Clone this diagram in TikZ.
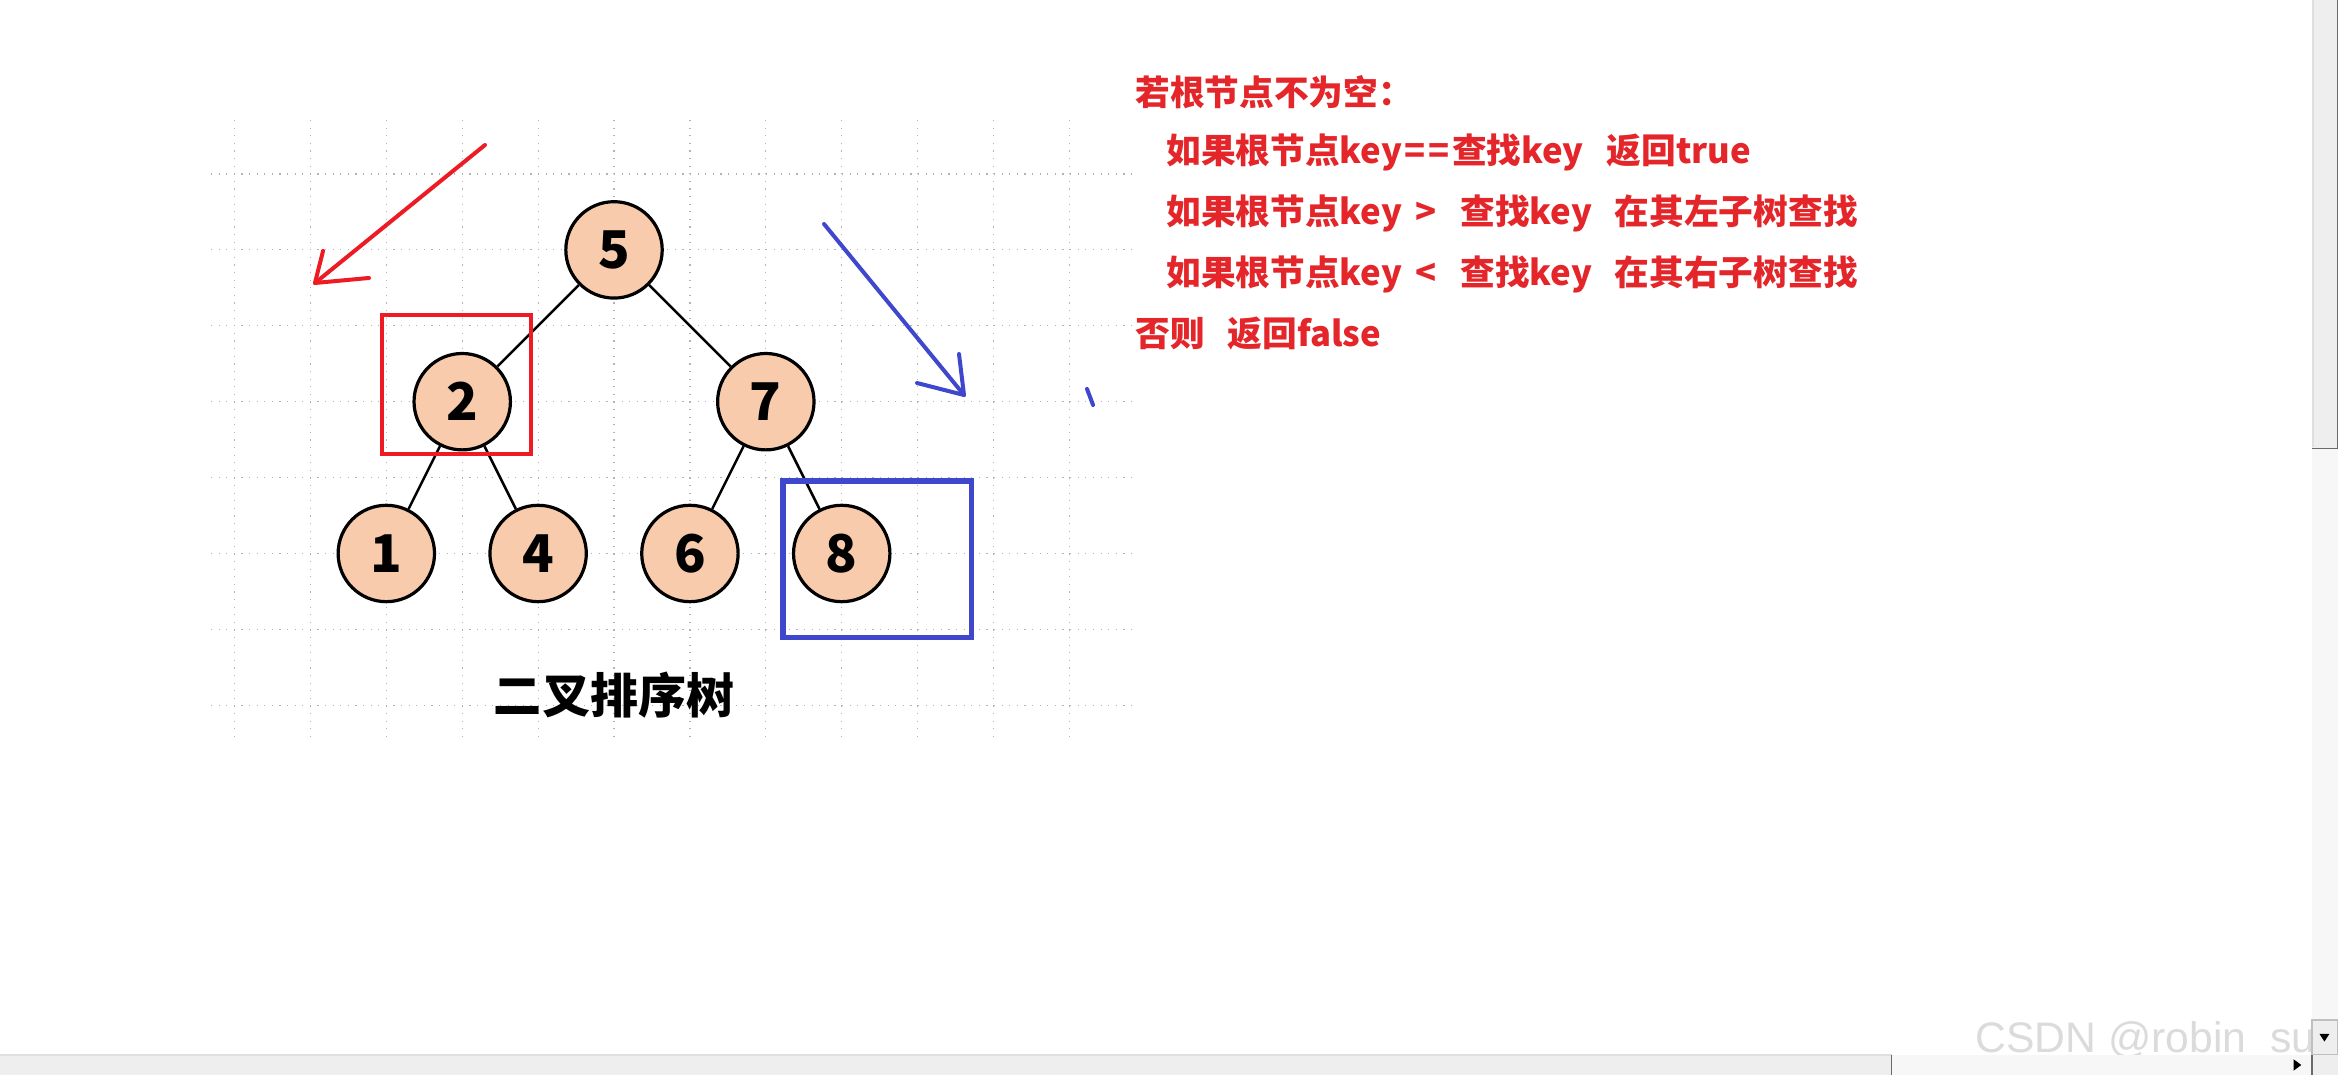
\documentclass[tikz,border=0pt]{standalone}
\usepackage{fontspec}
\setmainfont{Liberation Sans}
\newfontfamily\cjk{Noto Sans CJK SC}
\definecolor{paintred}{HTML}{ED1C24}
\definecolor{paintblue}{HTML}{3F48CC}
\definecolor{peach}{HTML}{F8CBAD}
\definecolor{notered}{HTML}{E4262A}
\definecolor{barbg}{HTML}{EEEEEE}
\definecolor{bardark}{HTML}{696969}

\begin{document}
\begin{tikzpicture}[
    treenode/.style={circle, draw=black, line width=1.2pt, fill=peach, minimum size=1.27cm, inner sep=0pt,
        font=\cjk\bfseries\fontsize{19.5}{19.5}\selectfont},
    treeedge/.style={line width=0.95pt},
    gridline/.style={gray!60, line width=0.45pt, dash pattern=on 0.45pt off 2.4pt},
    note/.style={anchor=west, inner sep=0pt, text=notered, font=\cjk\bfseries\fontsize{13}{13}\selectfont},
    stroke/.style={line width=1.5pt, line cap=round, line join=round}
]
    \useasboundingbox[fill=white] (-3.09,-11.871) rectangle (27.714,2.2925);

    \foreach \x in {0,...,11}
        \draw[gridline] (\x,0.711) -- (\x,-7.404);
    \foreach \y in {0,...,7}
        \draw[gridline] (-0.31,-\y) -- (11.825,-\y);

    \node[treenode] (n5) at (5,-1) {5};
    \node[treenode] (n2) at (3,-3) {2};
    \node[treenode] (n7) at (7,-3) {7};
    \node[treenode] (n1) at (2,-5) {1};
    \node[treenode] (n4) at (4,-5) {4};
    \node[treenode] (n6) at (6,-5) {6};
    \node[treenode] (n8) at (8,-5) {8};

    \draw[treeedge] (n5) -- (n2);
    \draw[treeedge] (n5) -- (n7);
    \draw[treeedge] (n2) -- (n1);
    \draw[treeedge] (n2) -- (n4);
    \draw[treeedge] (n7) -- (n6);
    \draw[treeedge] (n7) -- (n8);

    \node[font=\cjk\bfseries\fontsize{18}{18}\selectfont] (title) at (5,-6.865) {二叉排序树};

    \draw[paintred, line width=1.7pt] (1.943,-1.858) rectangle (3.906,-3.689);
    \draw[paintblue, line width=1.9pt] (7.226,-4.045) rectangle (9.709,-6.107);

    \coordinate (rtail) at (3.300,0.382);
    \coordinate (rtip) at (1.060,-1.436);
    \coordinate (rarmA) at (1.166,-1.014);
    \coordinate (rarmB) at (1.772,-1.370);
    \draw[stroke, paintred] (rtail) -- (rtip);
    \draw[stroke, paintred] (rarmA) -- (rtip) -- (rarmB);

    \coordinate (btail) at (7.767,-0.659);
    \coordinate (btip) at (9.611,-2.912);
    \coordinate (barmA) at (9.545,-2.372);
    \coordinate (barmB) at (8.992,-2.754);
    \draw[stroke, paintblue] (btail) -- (btip);
    \draw[stroke, paintblue] (barmA) -- (btip) -- (barmB);
    \coordinate (tickA) at (11.232,-2.833);
    \coordinate (tickB) at (11.311,-3.043);
    \draw[stroke, paintblue] (tickA) -- (tickB);

    \node[note] (rule1) at (11.864,1.074) {若根节点不为空：};
    \node[note] (rule2) at (12.273,0.290) {如果根节点key\hspace{1pt}=\hspace{1pt}=\hspace{1pt}查找key\hspace{8.6pt}返回true};
    \node[note] (rule3) at (12.273,-0.514) {如果根节点key\hspace{5pt}>\hspace{9pt}查找key\hspace{8.6pt}在其左子树查找};
    \node[note] (rule4) at (12.273,-1.318) {如果根节点key\hspace{5pt}<\hspace{9pt}查找key\hspace{8.6pt}在其右子树查找};
    \node[note] (rule5) at (11.864,-2.108) {否则\hspace{8.6pt}返回false};

    \node[anchor=base west, inner sep=0pt, text=gray!28, font=\fontsize{16}{16}\selectfont] (mark) at (22.93,-11.581) {CSDN @robin\_suli};

    \fill[barbg] (27.372,2.2925) rectangle (27.714,-3.623);
    \draw[bardark, line width=0.8pt] (27.372,-3.623) -- (27.714,-3.623) -- (27.714,2.2925);
    \draw[gray!25, line width=0.6pt] (27.385,2.2925) -- (27.385,-3.6);
    \fill[gray!6] (27.372,-3.623) rectangle (27.714,-11.146);
    \fill[barbg] (27.372,-11.146) rectangle (27.714,-11.607);
    \draw[gray!50, line width=0.5pt] (27.372,-11.146) rectangle (27.714,-11.607);
    \fill[black] (27.47,-11.33) -- (27.60,-11.33) -- (27.535,-11.43) -- cycle;

    \fill[barbg] (-3.09,-11.607) rectangle (21.838,-11.871);
    \draw[gray!25, line width=0.8pt] (-3.09,-11.607) -- (21.838,-11.607);
    \draw[bardark, line width=0.8pt] (21.838,-11.607) -- (21.838,-11.871);
    \fill[gray!6] (21.838,-11.607) rectangle (27.043,-11.871);
    \fill[gray!6] (27.043,-11.607) rectangle (27.372,-11.871);
    \fill[black] (27.13,-11.665) -- (27.23,-11.739) -- (27.13,-11.813) -- cycle;
    \draw[bardark, line width=0.6pt] (27.372,-11.607) -- (27.372,-11.871);
    \fill[barbg] (27.38,-11.607) rectangle (27.714,-11.871);
\end{tikzpicture}
\end{document}
